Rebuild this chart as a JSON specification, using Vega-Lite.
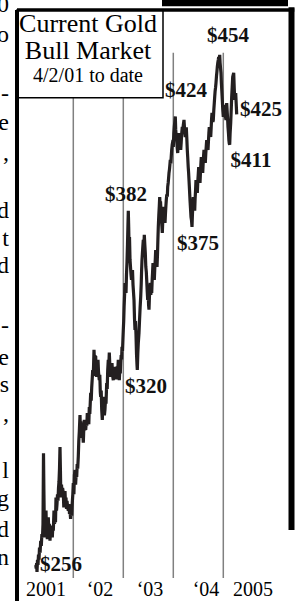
{
  "$schema": "https://vega.github.io/schema/vega-lite/v6.json",
  "width": 274,
  "height": 591,
  "autosize": {"type": "none"},
  "padding": {"left": 17, "top": 10, "right": 4, "bottom": 0},
  "background": "white",
  "config": {"view": {"stroke": null}},
  "datasets": {
    "gold": [
      {"t":2001.250,"p":258},{"t":2001.258,"p":257},{"t":2001.266,"p":258.5},{"t":2001.274,"p":256},{"t":2001.284,"p":259.5},{"t":2001.294,"p":258},{"t":2001.304,"p":261},{"t":2001.314,"p":259.5},{"t":2001.324,"p":263},{"t":2001.336,"p":261.5},{"t":2001.348,"p":265},{"t":2001.36,"p":263.5},{"t":2001.372,"p":267},{"t":2001.384,"p":266},{"t":2001.394,"p":270},{"t":2001.404,"p":292},{"t":2001.412,"p":280},{"t":2001.42,"p":270},{"t":2001.428,"p":267},{"t":2001.434,"p":272},{"t":2001.444,"p":266},{"t":2001.454,"p":274},{"t":2001.462,"p":269},{"t":2001.47,"p":271},{"t":2001.48,"p":265.5},{"t":2001.49,"p":269},{"t":2001.50,"p":272},{"t":2001.51,"p":268},{"t":2001.52,"p":270},{"t":2001.534,"p":265},{"t":2001.544,"p":268},{"t":2001.554,"p":266.5},{"t":2001.564,"p":269.5},{"t":2001.572,"p":267},{"t":2001.58,"p":266},{"t":2001.59,"p":269},{"t":2001.60,"p":268},{"t":2001.614,"p":274},{"t":2001.624,"p":270},{"t":2001.634,"p":272},{"t":2001.644,"p":270.5},{"t":2001.654,"p":278},{"t":2001.664,"p":274},{"t":2001.674,"p":276},{"t":2001.684,"p":279},{"t":2001.694,"p":277},{"t":2001.704,"p":281},{"t":2001.714,"p":283},{"t":2001.724,"p":287},{"t":2001.734,"p":294},{"t":2001.742,"p":287},{"t":2001.748,"p":281},{"t":2001.754,"p":278},{"t":2001.764,"p":282},{"t":2001.774,"p":279},{"t":2001.786,"p":281},{"t":2001.80,"p":279.4},{"t":2001.81,"p":275},{"t":2001.82,"p":276.5},{"t":2001.834,"p":280},{"t":2001.844,"p":276},{"t":2001.854,"p":278},{"t":2001.864,"p":274.5},{"t":2001.874,"p":277},{"t":2001.888,"p":275},{"t":2001.90,"p":274},{"t":2001.912,"p":276},{"t":2001.924,"p":273},{"t":2001.934,"p":274},{"t":2001.946,"p":271.5},{"t":2001.956,"p":273.5},{"t":2001.968,"p":272.5},{"t":2001.978,"p":276},{"t":2001.99,"p":279},
      {"t":2002.0,"p":282.5},{"t":2002.012,"p":279},{"t":2002.022,"p":285},{"t":2002.034,"p":286.6},{"t":2002.046,"p":282},{"t":2002.058,"p":285.5},{"t":2002.068,"p":284.4},{"t":2002.078,"p":288.5},{"t":2002.088,"p":287},{"t":2002.10,"p":291},{"t":2002.11,"p":296},{"t":2002.12,"p":299},{"t":2002.134,"p":304.6},{"t":2002.142,"p":300},{"t":2002.15,"p":302.5},{"t":2002.16,"p":298.5},{"t":2002.168,"p":300.6},{"t":2002.178,"p":297},{"t":2002.188,"p":299},{"t":2002.20,"p":295.4},{"t":2002.21,"p":300},{"t":2002.22,"p":303},{"t":2002.23,"p":299.5},{"t":2002.24,"p":301.5},{"t":2002.248,"p":299.6},{"t":2002.258,"p":302},{"t":2002.27,"p":301},{"t":2002.28,"p":305.3},{"t":2002.29,"p":302.5},{"t":2002.30,"p":303.5},{"t":2002.31,"p":301.5},{"t":2002.32,"p":307.3},{"t":2002.33,"p":305},{"t":2002.34,"p":309},{"t":2002.348,"p":312.2},{"t":2002.358,"p":309.5},{"t":2002.368,"p":314},{"t":2002.378,"p":317},{"t":2002.388,"p":320.2},{"t":2002.398,"p":318},{"t":2002.406,"p":322},{"t":2002.414,"p":327.4},{"t":2002.422,"p":324},{"t":2002.43,"p":321.5},{"t":2002.44,"p":325},{"t":2002.448,"p":324.9},{"t":2002.458,"p":319},{"t":2002.468,"p":317.8},{"t":2002.478,"p":321.5},{"t":2002.486,"p":320},{"t":2002.494,"p":323.8},{"t":2002.504,"p":319.5},{"t":2002.512,"p":318},{"t":2002.52,"p":316.6},{"t":2002.53,"p":318.5},{"t":2002.54,"p":312.5},{"t":2002.548,"p":310.8},{"t":2002.558,"p":313},{"t":2002.568,"p":306.5},{"t":2002.58,"p":303},{"t":2002.59,"p":307.5},{"t":2002.60,"p":310.8},{"t":2002.61,"p":306.5},{"t":2002.622,"p":304.5},{"t":2002.634,"p":306.6},{"t":2002.644,"p":310},{"t":2002.654,"p":308.5},{"t":2002.668,"p":315.6},{"t":2002.678,"p":313.5},{"t":2002.688,"p":320},{"t":2002.70,"p":323.8},{"t":2002.71,"p":321.5},{"t":2002.72,"p":326.4},{"t":2002.728,"p":323},{"t":2002.738,"p":319.5},{"t":2002.748,"p":317.8},{"t":2002.758,"p":321.5},{"t":2002.766,"p":319.5},{"t":2002.774,"p":322.7},{"t":2002.784,"p":319},{"t":2002.792,"p":317.5},{"t":2002.80,"p":316.6},{"t":2002.81,"p":320},{"t":2002.82,"p":318},{"t":2002.834,"p":321.3},{"t":2002.844,"p":318.5},{"t":2002.856,"p":317},{"t":2002.868,"p":317.8},{"t":2002.878,"p":321.5},{"t":2002.888,"p":319.5},{"t":2002.90,"p":323.8},{"t":2002.91,"p":318.5},{"t":2002.92,"p":316.6},{"t":2002.93,"p":320.5},{"t":2002.94,"p":319},{"t":2002.948,"p":322.7},{"t":2002.958,"p":325.5},{"t":2002.966,"p":324},{"t":2002.974,"p":328.5},{"t":2002.984,"p":327},{"t":2002.992,"p":331},
      {"t":2003.0,"p":334.7},{"t":2003.008,"p":338},{"t":2003.016,"p":343.4},{"t":2003.026,"p":348},{"t":2003.034,"p":352.6},{"t":2003.044,"p":350},{"t":2003.054,"p":348.7},{"t":2003.064,"p":356},{"t":2003.074,"p":361},{"t":2003.084,"p":368},{"t":2003.092,"p":375},{"t":2003.10,"p":382},{"t":2003.108,"p":375},{"t":2003.116,"p":366},{"t":2003.124,"p":371},{"t":2003.134,"p":362},{"t":2003.144,"p":358.9},{"t":2003.154,"p":356},{"t":2003.164,"p":353.8},{"t":2003.174,"p":356.5},{"t":2003.184,"p":357.7},{"t":2003.194,"p":352},{"t":2003.204,"p":349},{"t":2003.214,"p":346},{"t":2003.224,"p":339},{"t":2003.234,"p":334.7},{"t":2003.244,"p":338},{"t":2003.254,"p":333},{"t":2003.264,"p":326},{"t":2003.274,"p":322},{"t":2003.28,"p":320.2},{"t":2003.29,"p":326},{"t":2003.30,"p":330},{"t":2003.314,"p":333.6},{"t":2003.324,"p":338},{"t":2003.336,"p":343},{"t":2003.348,"p":347.2},{"t":2003.358,"p":352},{"t":2003.366,"p":357.5},{"t":2003.374,"p":361.7},{"t":2003.384,"p":365},{"t":2003.392,"p":367.5},{"t":2003.40,"p":369.8},{"t":2003.41,"p":366},{"t":2003.42,"p":371.9},{"t":2003.43,"p":368},{"t":2003.44,"p":364.5},{"t":2003.45,"p":359},{"t":2003.46,"p":357},{"t":2003.468,"p":353.8},{"t":2003.478,"p":349.5},{"t":2003.488,"p":346},{"t":2003.498,"p":348.5},{"t":2003.506,"p":344},{"t":2003.514,"p":342.3},{"t":2003.522,"p":347},{"t":2003.53,"p":350},{"t":2003.54,"p":352.6},{"t":2003.55,"p":348},{"t":2003.56,"p":351},{"t":2003.568,"p":348.7},{"t":2003.578,"p":354},{"t":2003.586,"p":357},{"t":2003.594,"p":360.5},{"t":2003.604,"p":356},{"t":2003.612,"p":358},{"t":2003.62,"p":353.8},{"t":2003.63,"p":358.5},{"t":2003.64,"p":362},{"t":2003.648,"p":365.7},{"t":2003.656,"p":361},{"t":2003.666,"p":362.5},{"t":2003.674,"p":358.9},{"t":2003.684,"p":364},{"t":2003.692,"p":370},{"t":2003.70,"p":375.2},{"t":2003.71,"p":380},{"t":2003.72,"p":384},{"t":2003.728,"p":387.8},{"t":2003.736,"p":384.5},{"t":2003.744,"p":386},{"t":2003.754,"p":382},{"t":2003.764,"p":378},{"t":2003.772,"p":375.5},{"t":2003.78,"p":372.7},{"t":2003.79,"p":378},{"t":2003.80,"p":381},{"t":2003.808,"p":383.6},{"t":2003.816,"p":380},{"t":2003.826,"p":379},{"t":2003.834,"p":376.9},{"t":2003.844,"p":381},{"t":2003.852,"p":384},{"t":2003.86,"p":386.6},{"t":2003.87,"p":389},{"t":2003.88,"p":388},{"t":2003.888,"p":392.2},{"t":2003.898,"p":394},{"t":2003.906,"p":396},{"t":2003.914,"p":398.3},{"t":2003.924,"p":400},{"t":2003.932,"p":402},{"t":2003.94,"p":404.1},{"t":2003.95,"p":402.5},{"t":2003.96,"p":406},{"t":2003.968,"p":408.6},{"t":2003.978,"p":411},{"t":2003.986,"p":412},{"t":2003.994,"p":413.1},
      {"t":2004.0,"p":410},{"t":2004.01,"p":416},{"t":2004.02,"p":419.1},{"t":2004.03,"p":421.5},{"t":2004.04,"p":424},{"t":2004.048,"p":418},{"t":2004.058,"p":415},{"t":2004.068,"p":413},{"t":2004.078,"p":409.5},{"t":2004.088,"p":407.2},{"t":2004.098,"p":411},{"t":2004.106,"p":414},{"t":2004.114,"p":416.3},{"t":2004.124,"p":412.5},{"t":2004.134,"p":411},{"t":2004.14,"p":413},{"t":2004.148,"p":408.6},{"t":2004.158,"p":412},{"t":2004.168,"p":416},{"t":2004.18,"p":419.1},{"t":2004.19,"p":417},{"t":2004.2,"p":420},{"t":2004.214,"p":422.4},{"t":2004.224,"p":418.5},{"t":2004.232,"p":416},{"t":2004.24,"p":414.5},{"t":2004.25,"p":417.5},{"t":2004.26,"p":419},{"t":2004.27,"p":414},{"t":2004.28,"p":408.5},{"t":2004.288,"p":405.4},{"t":2004.298,"p":401},{"t":2004.306,"p":398.5},{"t":2004.314,"p":395.2},{"t":2004.324,"p":391},{"t":2004.334,"p":386.6},{"t":2004.344,"p":383},{"t":2004.354,"p":379.3},{"t":2004.364,"p":378},{"t":2004.374,"p":375.2},{"t":2004.382,"p":380},{"t":2004.39,"p":384},{"t":2004.40,"p":387.8},{"t":2004.41,"p":385},{"t":2004.42,"p":384},{"t":2004.428,"p":382},{"t":2004.436,"p":387},{"t":2004.446,"p":391},{"t":2004.454,"p":395.2},{"t":2004.464,"p":392},{"t":2004.472,"p":391},{"t":2004.48,"p":389.6},{"t":2004.49,"p":394.5},{"t":2004.5,"p":398},{"t":2004.508,"p":400.9},{"t":2004.518,"p":397},{"t":2004.526,"p":396},{"t":2004.534,"p":393.9},{"t":2004.544,"p":399},{"t":2004.552,"p":402.5},{"t":2004.56,"p":405.4},{"t":2004.57,"p":401.5},{"t":2004.58,"p":400},{"t":2004.588,"p":398.3},{"t":2004.598,"p":403},{"t":2004.606,"p":406},{"t":2004.614,"p":408.6},{"t":2004.624,"p":405},{"t":2004.632,"p":404},{"t":2004.64,"p":402.8},{"t":2004.65,"p":407},{"t":2004.66,"p":410.5},{"t":2004.668,"p":413},{"t":2004.678,"p":410},{"t":2004.686,"p":409.5},{"t":2004.694,"p":408.6},{"t":2004.704,"p":413},{"t":2004.712,"p":416.5},{"t":2004.72,"p":419.1},{"t":2004.73,"p":416},{"t":2004.74,"p":415.5},{"t":2004.748,"p":414.5},{"t":2004.758,"p":419},{"t":2004.766,"p":423},{"t":2004.774,"p":425.7},{"t":2004.784,"p":423},{"t":2004.792,"p":421.5},{"t":2004.80,"p":422.4},{"t":2004.81,"p":427},{"t":2004.82,"p":430.5},{"t":2004.828,"p":433.3},{"t":2004.836,"p":436},{"t":2004.846,"p":438},{"t":2004.854,"p":440.1},{"t":2004.864,"p":443.5},{"t":2004.872,"p":445.5},{"t":2004.88,"p":447.9},{"t":2004.89,"p":450},{"t":2004.9,"p":451.5},{"t":2004.908,"p":452.9},{"t":2004.918,"p":451},{"t":2004.928,"p":454},{"t":2004.936,"p":450},{"t":2004.946,"p":447},{"t":2004.954,"p":445},{"t":2004.962,"p":440},{"t":2004.972,"p":435.5},{"t":2004.98,"p":431.9},{"t":2004.99,"p":427},{"t":2005.0,"p":423.8},{"t":2005.01,"p":426},{"t":2005.02,"p":429.5},{"t":2005.028,"p":428.5},{"t":2005.036,"p":425},{"t":2005.046,"p":423.5},{"t":2005.054,"p":422.4},{"t":2005.062,"p":427},{"t":2005.068,"p":430.4},{"t":2005.076,"p":427},{"t":2005.086,"p":423},{"t":2005.094,"p":419},{"t":2005.104,"p":416},{"t":2005.112,"p":413},{"t":2005.12,"p":411.5},{"t":2005.128,"p":411},{"t":2005.136,"p":416},{"t":2005.148,"p":421},{"t":2005.158,"p":427},{"t":2005.168,"p":433.3},{"t":2005.178,"p":438},{"t":2005.188,"p":443},{"t":2005.198,"p":444},{"t":2005.208,"p":445},{"t":2005.218,"p":438},{"t":2005.228,"p":431.9},{"t":2005.238,"p":434},{"t":2005.248,"p":435.2},{"t":2005.258,"p":430},{"t":2005.268,"p":425}
    ],
    "labels": [
      {"t":2005.094,"p":463.7,"label":"$454"},
      {"t":2004.254,"p":436.2,"label":"$424"},
      {"t":2005.754,"p":427.1,"label":"$425"},
      {"t":2005.554,"p":403.7,"label":"$411"},
      {"t":2003.054,"p":388.8,"label":"$382"},
      {"t":2004.494,"p":368.2,"label":"$375"},
      {"t":2003.454,"p":314.2,"label":"$320"},
      {"t":2001.754,"p":258.0,"label":"$256"}
    ],
    "grid": [{"t":2002},{"t":2003},{"t":2004},{"t":2005}],
    "ticks": [
      {"t":2001.454,"label":"2001"},
      {"t":2002.534,"label":"‘02"},
      {"t":2003.534,"label":"‘03"},
      {"t":2004.654,"label":"‘04"},
      {"t":2005.594,"label":"2005"}
    ],
    "titleBig": [
      {"t":2002.294,"p":469.9,"label":"Current Gold"},
      {"t":2002.294,"p":456.0,"label":"Bull Market"}
    ],
    "titleSmall": [
      {"t":2002.294,"p":443.6,"label":"4/2/01 to date"}
    ],
    "margin": [
      {"p":476.2,"label":"0"},
      {"p":460.6,"label":"o"},
      {"p":431.4,"label":"-"},
      {"p":417.8,"label":"e"},
      {"p":404.1,"label":","},
      {"p":379.0,"label":"d"},
      {"p":367.4,"label":"t"},
      {"p":356.6,"label":"d"},
      {"p":333.6,"label":"-"},
      {"p":322.0,"label":"e"},
      {"p":312.5,"label":"s"},
      {"p":302.6,"label":","},
      {"p":284.1,"label":"l"},
      {"p":275.4,"label":"g"},
      {"p":266.1,"label":"d"},
      {"p":258.0,"label":"n"}
    ]
  },
  "layer": [
    {
      "data": {"name": "grid"},
      "mark": {"type": "rule", "color": "#808080", "strokeWidth": 1.5},
      "encoding": {
        "x": {"field": "t", "type": "quantitative", "scale": {"type": "linear", "domain": [2000.874, 2006.354], "nice": false, "zero": false}, "axis": null},
        "y": {"datum": 455, "type": "quantitative", "scale": {"type": "log", "domain": [247.9, 477.1], "nice": false}, "axis": null},
        "y2": {"datum": 254.3}
      }
    },
    {
      "data": {"name": "gold"},
      "mark": {"type": "line", "color": "#231f20", "strokeWidth": 3.2, "strokeJoin": "miter"},
      "encoding": {
        "x": {"field": "t", "type": "quantitative", "scale": {"type": "linear", "domain": [2000.874, 2006.354], "nice": false, "zero": false}, "axis": null},
        "y": {"field": "p", "type": "quantitative", "scale": {"type": "log", "domain": [247.9, 477.1], "nice": false}, "axis": null}
      }
    },
    {
      "data": {"name": "labels"},
      "mark": {"type": "text", "font": "Liberation Serif", "fontWeight": "bold", "fontSize": 21, "color": "#111111", "align": "center", "baseline": "middle", "clip": false},
      "encoding": {
        "x": {"field": "t", "type": "quantitative", "scale": {"type": "linear", "domain": [2000.874, 2006.354], "nice": false, "zero": false}, "axis": null},
        "y": {"field": "p", "type": "quantitative", "scale": {"type": "log", "domain": [247.9, 477.1], "nice": false}, "axis": null},
        "text": {"field": "label"}
      }
    },
    {
      "data": {"values": [{}]},
      "mark": {"type": "rect", "fill": "white", "stroke": "black", "strokeWidth": 1.5, "clip": false},
      "encoding": {
        "x": {"datum": 2000.874, "type": "quantitative", "scale": {"type": "linear", "domain": [2000.874, 2006.354], "nice": false, "zero": false}, "axis": null},
        "x2": {"datum": 2003.794},
        "y": {"datum": 477.1, "type": "quantitative", "scale": {"type": "log", "domain": [247.9, 477.1], "nice": false}, "axis": null},
        "y2": {"datum": 432.9}
      }
    },
    {
      "data": {"name": "titleBig"},
      "mark": {"type": "text", "font": "Liberation Serif", "fontSize": 26, "color": "black", "align": "center", "baseline": "middle", "clip": false},
      "encoding": {
        "x": {"field": "t", "type": "quantitative", "scale": {"type": "linear", "domain": [2000.874, 2006.354], "nice": false, "zero": false}, "axis": null},
        "y": {"field": "p", "type": "quantitative", "scale": {"type": "log", "domain": [247.9, 477.1], "nice": false}, "axis": null},
        "text": {"field": "label"}
      }
    },
    {
      "data": {"name": "titleSmall"},
      "mark": {"type": "text", "font": "Liberation Serif", "fontSize": 20, "color": "black", "align": "center", "baseline": "middle", "clip": false},
      "encoding": {
        "x": {"field": "t", "type": "quantitative", "scale": {"type": "linear", "domain": [2000.874, 2006.354], "nice": false, "zero": false}, "axis": null},
        "y": {"field": "p", "type": "quantitative", "scale": {"type": "log", "domain": [247.9, 477.1], "nice": false}, "axis": null},
        "text": {"field": "label"}
      }
    },
    {
      "data": {"values": [{}]},
      "mark": {"type": "rule", "color": "black", "strokeWidth": 4, "clip": false},
      "encoding": {
        "x": {"datum": 2000.874, "type": "quantitative", "scale": {"type": "linear", "domain": [2000.874, 2006.354], "nice": false, "zero": false}, "axis": null},
        "y": {"datum": 477.1, "type": "quantitative", "scale": {"type": "log", "domain": [247.9, 477.1], "nice": false}, "axis": null},
        "y2": {"datum": 247.9}
      }
    },
    {
      "data": {"values": [{}]},
      "mark": {"type": "rule", "color": "black", "strokeWidth": 3.5, "clip": false},
      "encoding": {
        "x": {"datum": 2000.874, "type": "quantitative", "scale": {"type": "linear", "domain": [2000.874, 2006.354], "nice": false, "zero": false}, "axis": null},
        "x2": {"datum": 2006.42},
        "y": {"datum": 477.1, "type": "quantitative", "scale": {"type": "log", "domain": [247.9, 477.1], "nice": false}, "axis": null}
      }
    },
    {
      "data": {"values": [{}]},
      "mark": {"type": "rule", "color": "black", "strokeWidth": 6, "clip": false},
      "encoding": {
        "x": {"datum": 2006.364, "type": "quantitative", "scale": {"type": "linear", "domain": [2000.874, 2006.354], "nice": false, "zero": false}, "axis": null},
        "y": {"datum": 478.5, "type": "quantitative", "scale": {"type": "log", "domain": [247.9, 477.1], "nice": false}, "axis": null},
        "y2": {"datum": 268.2}
      }
    },
    {
      "data": {"values": [{}]},
      "mark": {"type": "rect", "fill": "black", "clip": false},
      "encoding": {
        "x": {"datum": 2003.774, "type": "quantitative", "scale": {"type": "linear", "domain": [2000.874, 2006.354], "nice": false, "zero": false}, "axis": null},
        "x2": {"datum": 2006.294},
        "y": {"datum": 482.5, "type": "quantitative", "scale": {"type": "log", "domain": [247.9, 477.1], "nice": false}, "axis": null},
        "y2": {"datum": 479.1}
      }
    },
    {
      "data": {"name": "ticks"},
      "mark": {"type": "text", "font": "Liberation Serif", "fontSize": 20, "color": "black", "align": "center", "baseline": "middle", "clip": false},
      "encoding": {
        "x": {"field": "t", "type": "quantitative", "scale": {"type": "linear", "domain": [2000.874, 2006.354], "nice": false, "zero": false}, "axis": null},
        "y": {"datum": 250.9, "type": "quantitative", "scale": {"type": "log", "domain": [247.9, 477.1], "nice": false}, "axis": null},
        "text": {"field": "label"}
      }
    },
    {
      "data": {"name": "margin"},
      "mark": {"type": "text", "font": "Liberation Serif", "fontSize": 24, "color": "black", "align": "right", "baseline": "alphabetic", "clip": false},
      "encoding": {
        "x": {"datum": 2000.714, "type": "quantitative", "scale": {"type": "linear", "domain": [2000.874, 2006.354], "nice": false, "zero": false}, "axis": null},
        "y": {"field": "p", "type": "quantitative", "scale": {"type": "log", "domain": [247.9, 477.1], "nice": false}, "axis": null},
        "text": {"field": "label"}
      }
    }
  ]
}
